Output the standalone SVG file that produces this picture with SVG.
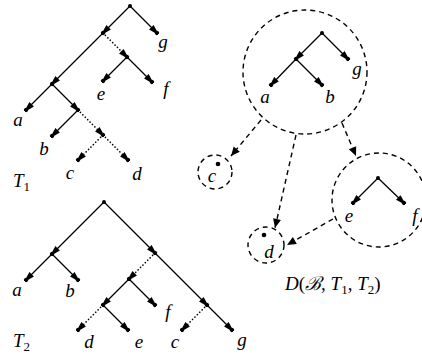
<svg xmlns="http://www.w3.org/2000/svg" width="422" height="359" viewBox="0 0 422 359">
<style>
.e{stroke:#000;stroke-width:1.3;fill:none;marker-end:url(#tip)}
.d{stroke:#000;stroke-width:1.6;fill:none;stroke-dasharray:0.1 3.3;stroke-linecap:round;marker-end:url(#tip)}
.c{stroke:#000;stroke-width:1.4;fill:none;stroke-dasharray:5 4}
.a{stroke:#000;stroke-width:1.4;fill:none;stroke-dasharray:5 4;marker-end:url(#big)}
.n{fill:#000}
text{font-family:"Liberation Serif","DejaVu Serif",serif;font-style:italic;font-size:19px;fill:#000}
.m{text-anchor:middle}
.u{font-style:normal}
</style>
<defs>
<marker id="tip" markerUnits="userSpaceOnUse" viewBox="-10 -5 12 10" refX="0" refY="0" markerWidth="12" markerHeight="10" orient="auto">
<path d="M-8,-3.2 L-1,-1.2 L-1,1.2 L-8,3.2 Z" fill="#000"/>
<circle cx="0" cy="0" r="2.2" fill="#000"/>
</marker>
<marker id="big" markerUnits="userSpaceOnUse" viewBox="-10 -5 11 10" refX="0" refY="0" markerWidth="11" markerHeight="10" orient="auto">
<path d="M-9,-4 L0,0 L-9,4 Z" fill="#000"/>
</marker>
</defs>

<g id="connectors">
<!-- T1 -->
<line class="e" x1="130" y1="6" x2="103" y2="33"/>
<line class="e" x1="130" y1="6" x2="157" y2="33"/>
<line class="e" x1="103" y1="33" x2="52" y2="84"/>
<line class="d" x1="103" y1="33" x2="127" y2="57"/>
<line class="e" x1="127" y1="57" x2="103" y2="81"/>
<line class="e" x1="127" y1="57" x2="152" y2="82"/>
<line class="e" x1="52" y1="84" x2="26" y2="110"/>
<line class="e" x1="52" y1="84" x2="78" y2="110"/>
<line class="e" x1="78" y1="110" x2="52" y2="136"/>
<line class="d" x1="78" y1="110" x2="103" y2="135"/>
<line class="d" x1="103" y1="135" x2="78" y2="160"/>
<line class="d" x1="103" y1="135" x2="128" y2="160"/>
<!-- T2 -->
<line class="e" x1="104" y1="202" x2="52" y2="254"/>
<line class="e" x1="104" y1="202" x2="155" y2="253"/>
<line class="e" x1="52" y1="254" x2="26" y2="280"/>
<line class="e" x1="52" y1="254" x2="78" y2="280"/>
<line class="e" x1="155" y1="253" x2="207" y2="305"/>
<line class="d" x1="155" y1="253" x2="129" y2="279"/>
<line class="e" x1="129" y1="279" x2="103" y2="305"/>
<line class="e" x1="129" y1="279" x2="155" y2="305"/>
<line class="d" x1="103" y1="305" x2="78" y2="330"/>
<line class="e" x1="103" y1="305" x2="128" y2="330"/>
<line class="d" x1="207" y1="305" x2="182" y2="330"/>
<line class="e" x1="207" y1="305" x2="232" y2="330"/>
<!-- D: inner trees -->
<line class="e" x1="322" y1="33" x2="296" y2="59"/>
<line class="e" x1="322" y1="33" x2="348" y2="59"/>
<line class="e" x1="296" y1="59" x2="271" y2="85"/>
<line class="e" x1="296" y1="59" x2="322" y2="85"/>
<line class="e" x1="378" y1="178" x2="353" y2="203"/>
<line class="e" x1="378" y1="178" x2="404" y2="203"/>
<!-- D: dashed arrows -->
<line class="a" x1="261" y1="120" x2="231" y2="156"/>
<line class="a" x1="296" y1="135" x2="275" y2="228"/>
<line class="a" x1="342" y1="123" x2="356" y2="156"/>
<line class="a" x1="333" y1="219" x2="287" y2="245"/>
</g>

<g id="T1">
<circle class="n" cx="130" cy="6" r="2"/>
<text class="m" x="163" y="48">g</text>
<text class="m" x="101" y="100">e</text>
<text class="m" x="166" y="95">f</text>
<text class="m" x="18" y="126">a</text>
<text class="m" x="44" y="155">b</text>
<text class="m" x="70" y="179">c</text>
<text class="m" x="137" y="180">d</text>
<text x="13" y="187">T<tspan class="u" font-size="13" dy="4">1</tspan></text>
</g>

<g id="T2">
<circle class="n" cx="104" cy="202" r="2"/>
<text class="m" x="17" y="296">a</text>
<text class="m" x="70" y="297">b</text>
<text class="m" x="168" y="318">f</text>
<text class="m" x="89" y="348">d</text>
<text class="m" x="139" y="348">e</text>
<text class="m" x="175" y="348">c</text>
<text class="m" x="242" y="346">g</text>
<text x="13" y="347">T<tspan class="u" font-size="13" dy="4">2</tspan></text>
</g>

<g id="nodeA">
<circle class="c" cx="305" cy="72" r="62"/>
<circle class="n" cx="322" cy="33" r="2"/>
<text class="m" x="265" y="103">a</text>
<text class="m" x="330" y="103">b</text>
<text class="m" x="357" y="75">g</text>
</g>

<g id="nodeC">
<circle class="c" cx="215" cy="172" r="17"/>
<circle class="n" cx="218" cy="164" r="2.3"/>
<text class="m" x="212" y="182">c</text>
</g>

<g id="nodeD">
<circle class="c" cx="266" cy="245" r="18"/>
<circle class="n" cx="264" cy="235" r="2.3"/>
<text class="m" x="269" y="258">d</text>
</g>

<g id="nodeE">
<circle class="c" cx="379" cy="200" r="47"/>
<circle class="n" cx="378" cy="178" r="2"/>
<text class="m" x="349" y="222">e</text>
<text class="m" x="415" y="222">f</text>
</g>

<g id="caption">
<text x="285" y="290">D<tspan class="u">(</tspan>ℬ<tspan class="u">, </tspan>T<tspan class="u" font-size="13" dy="4">1</tspan><tspan class="u" dy="-4">, </tspan>T<tspan class="u" font-size="13" dy="4">2</tspan><tspan class="u" dy="-4">)</tspan></text>
</g>
</svg>
